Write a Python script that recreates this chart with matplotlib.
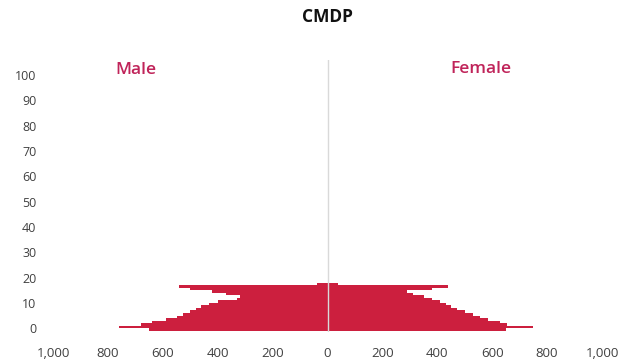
import matplotlib
matplotlib.use("Agg")
import matplotlib.pyplot as plt
import numpy as np

# Data
ages = list(range(0, 19))
male = [650, 760, 680, 640, 590, 550, 525, 500, 480, 460, 430, 400, 330, 320, 370, 420, 500, 540, 40]
female = [650, 748, 655, 630, 585, 555, 530, 500, 470, 450, 430, 410, 380, 350, 310, 290, 380, 440, 40]
x_ticks = [-1000, -800, -600, -400, -200, 0, 200, 400, 600, 800, 1000]
x_tick_labels = ["1,000", "800", "600", "400", "200", "0", "200", "400", "600", "800", "1,000"]
y_ticks = list(range(0, 101, 10))
title = "CMDP"
labels = ["Male", "Female"]

bar_color = "#cc1f3e"
label_color = "#c0245a"
tick_color = "#404040"
font = "Open Sans"

fig = plt.figure(figsize=(6.26, 3.60), dpi=100)
ax = fig.add_axes([53/626, 1 - 332/360, 549/626, 272/360])

ages_arr = np.array(ages)
ax.barh(ages_arr, -np.array(male), height=-1.0, align="edge", color=bar_color, linewidth=0)
ax.barh(ages_arr, np.array(female), height=-1.0, align="edge", color=bar_color, linewidth=0)

ax.axvline(0, color="#d9d9d9", lw=1.0, zorder=3)

ax.set_xlim(-1000, 1000)
ax.set_ylim(-1.5, 106)
ax.set_xticks(x_ticks)
ax.set_xticklabels(x_tick_labels, fontsize=9.5, color=tick_color, family=font)
ax.set_yticks(y_ticks)
ax.set_yticklabels([str(v) for v in y_ticks], fontsize=9, color=tick_color, family=font)
ax.tick_params(axis="both", length=0)
ax.tick_params(axis="x", pad=11)
ax.tick_params(axis="y", pad=12)
for s in ax.spines.values():
    s.set_visible(False)

ax.text(-698, 102, labels[0], ha="center", va="center", fontsize=12.5, color=label_color,
        family=font, fontweight="semibold")
ax.text(559, 102.4, labels[1], ha="center", va="center", fontsize=12.5, color=label_color,
        family=font, fontweight="semibold")

fig.text(327/626, 1 - 17/360, title, ha="center", va="center", fontsize=12.5, fontweight="bold",
         family=font, color="#111111")

fig.savefig("out.png", dpi=100)
